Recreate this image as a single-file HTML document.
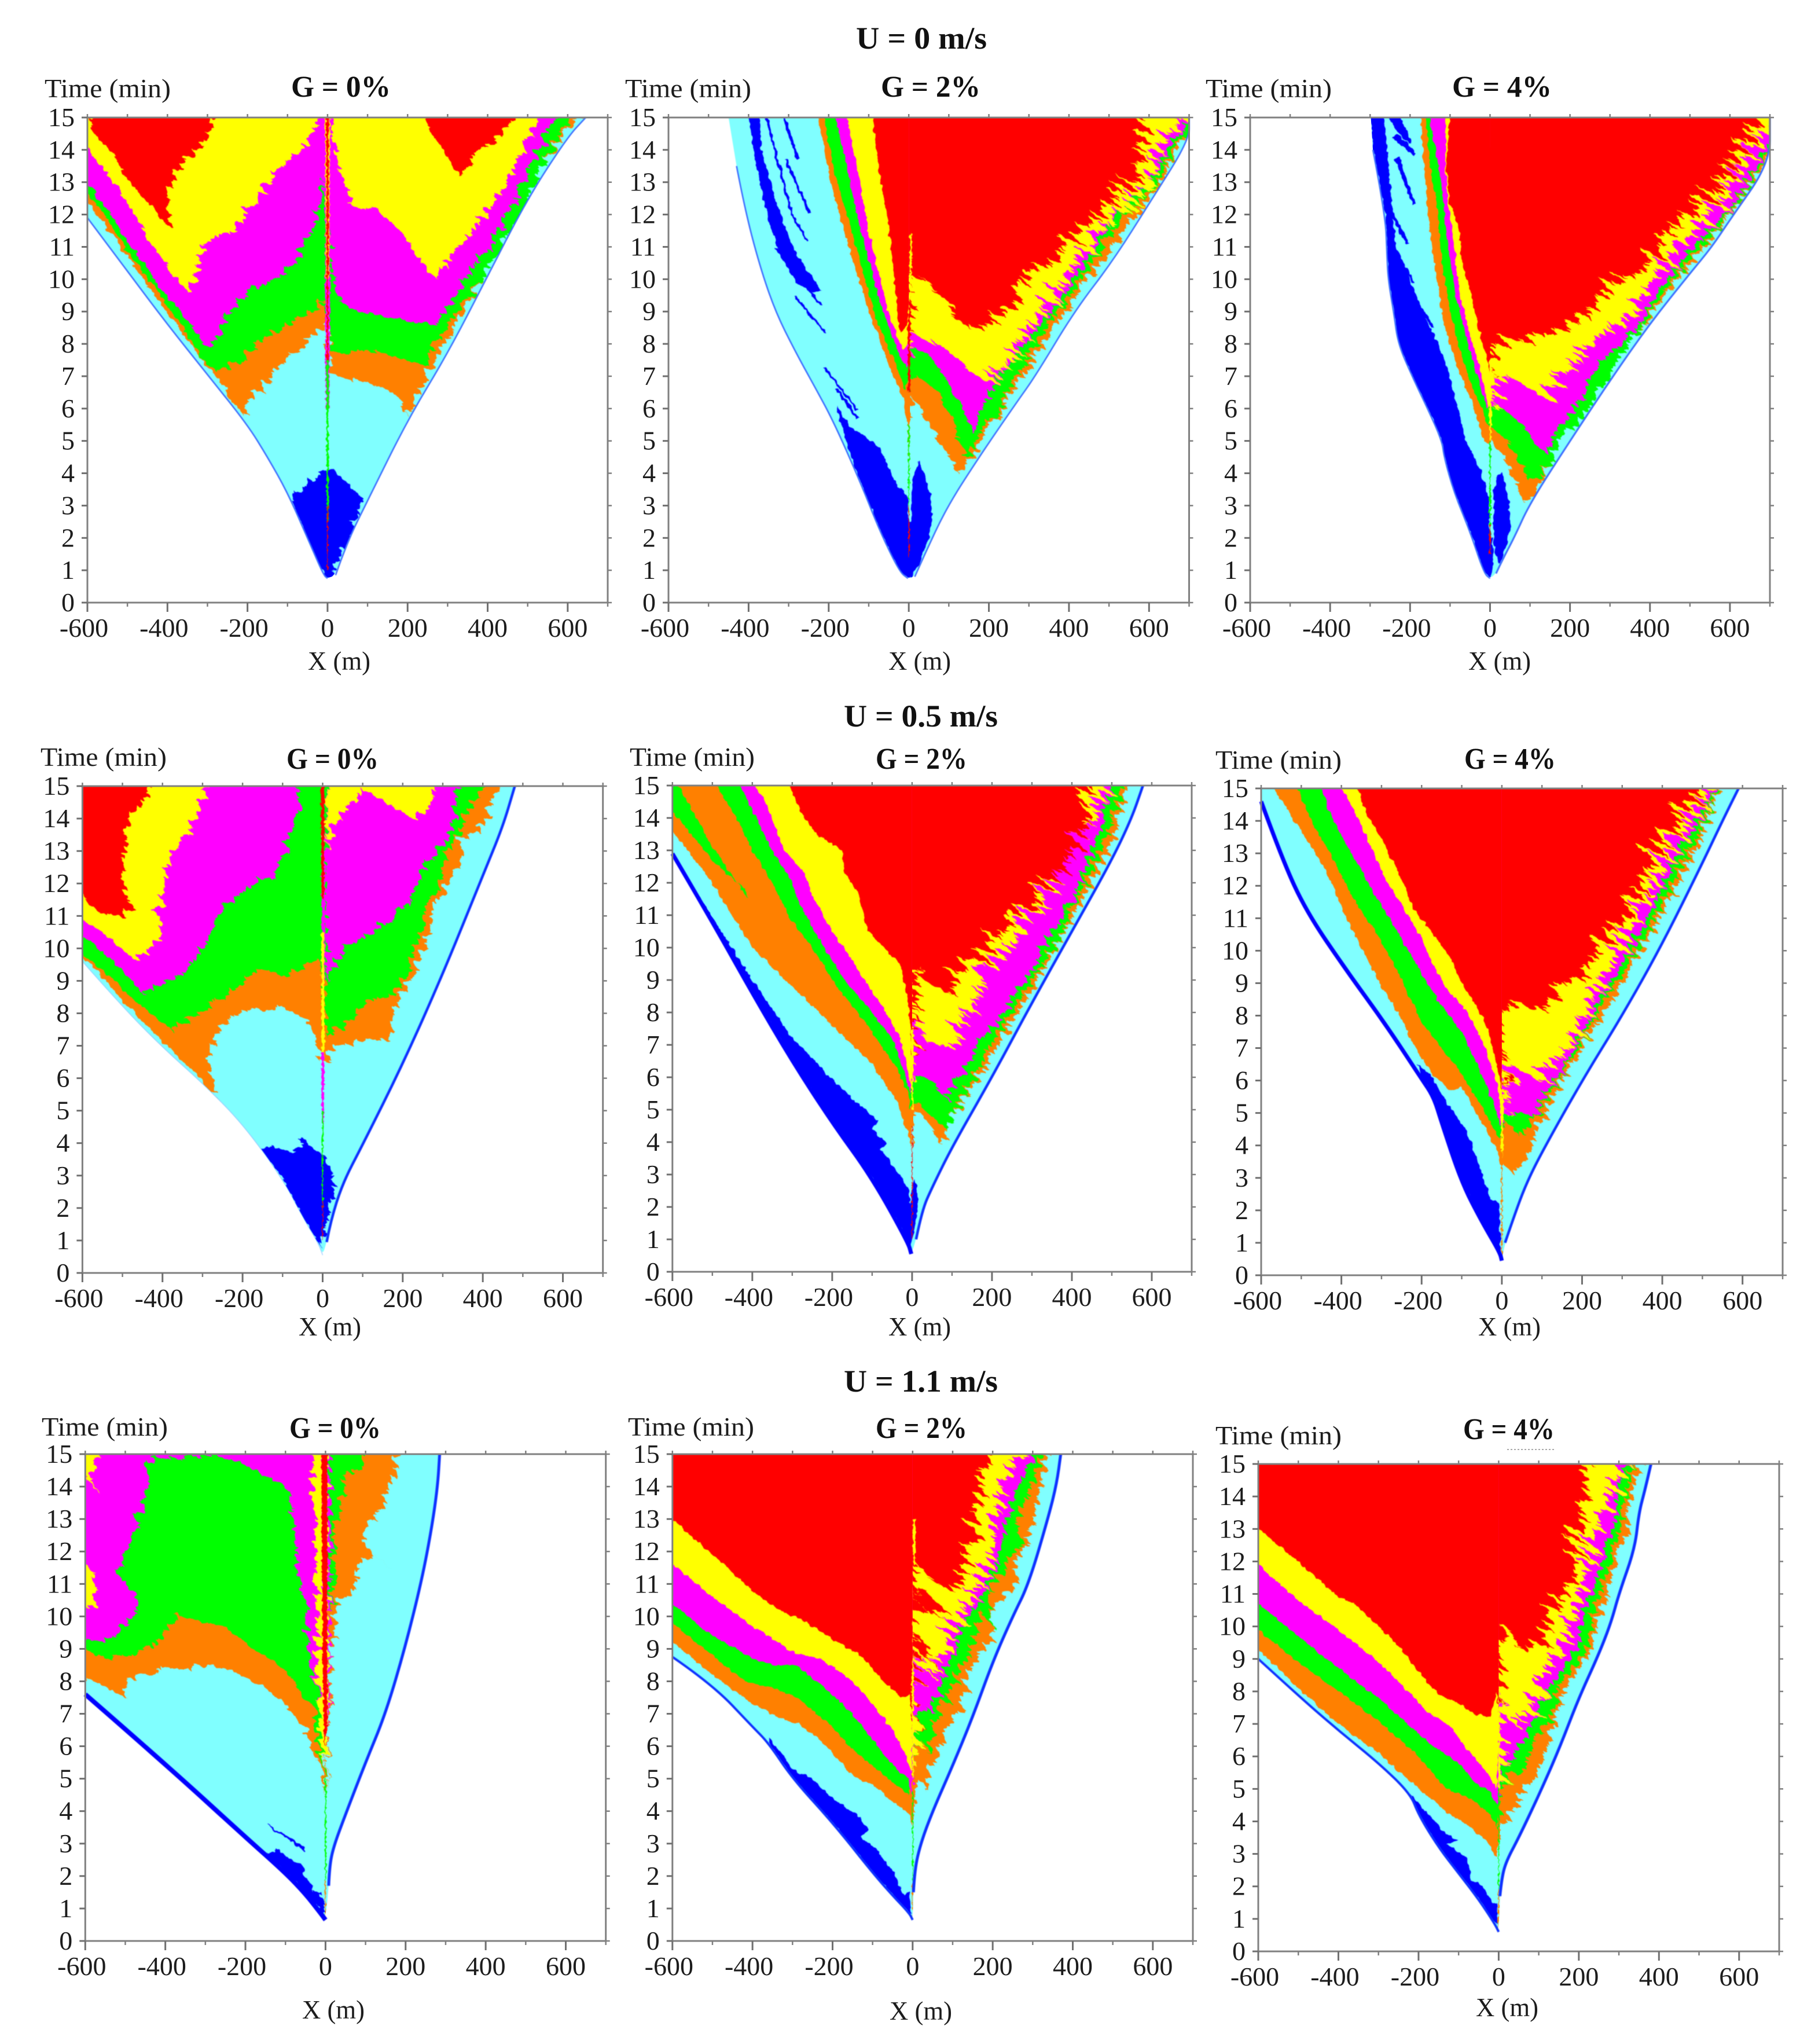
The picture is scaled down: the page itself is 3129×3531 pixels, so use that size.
<!DOCTYPE html>
<html lang="en">
<head>
<meta charset="utf-8">
<title>Traffic space-time diagrams</title>
<style>
html,body{margin:0;padding:0;background:#fff}
svg{display:block}
text{font-family:"Liberation Serif","DejaVu Serif",serif;fill:#1c1c1c}
.tick{font-size:46px}
.axis{font-size:46px}
.g{font-size:52px;font-weight:bold;fill:#111}
.u{font-size:54px;font-weight:bold;fill:#111}
</style>
</head>
<body>
<svg id="figure" xmlns="http://www.w3.org/2000/svg" width="3129" height="3531" viewBox="0 0 3129 3531">
<defs>
<filter id="spiky" x="-20%" y="-20%" width="140%" height="140%" color-interpolation-filters="sRGB">
<feTurbulence type="fractalNoise" baseFrequency="0.007 0.11" numOctaves="3" seed="11" result="n"/>
<feColorMatrix in="n" type="matrix" values="1 0 0 0 0  0 1 0 0 0  0 0 0 0 .5  0 0 0 0 1" result="m"/>
<feDisplacementMap in="SourceGraphic" in2="m" scale="95" xChannelSelector="R" yChannelSelector="B" result="d"/>
<feTurbulence type="fractalNoise" baseFrequency="0.09 0.06" numOctaves="2" seed="3" result="n2"/>
<feDisplacementMap in="d" in2="n2" scale="8" xChannelSelector="R" yChannelSelector="G" result="e"/>
<feGaussianBlur in="e" stdDeviation="0.9"/>
</filter>
<filter id="spikyMid" x="-20%" y="-20%" width="140%" height="140%" color-interpolation-filters="sRGB">
<feTurbulence type="fractalNoise" baseFrequency="0.007 0.11" numOctaves="3" seed="11" result="n"/>
<feColorMatrix in="n" type="matrix" values="1 0 0 0 0  0 1 0 0 0  0 0 0 0 .5  0 0 0 0 1" result="m"/>
<feDisplacementMap in="SourceGraphic" in2="m" scale="38" xChannelSelector="R" yChannelSelector="B" result="d"/>
<feTurbulence type="fractalNoise" baseFrequency="0.09 0.06" numOctaves="2" seed="3" result="n2"/>
<feDisplacementMap in="d" in2="n2" scale="8" xChannelSelector="R" yChannelSelector="G" result="e"/>
<feGaussianBlur in="e" stdDeviation="0.9"/>
</filter>
<filter id="spikyLow" x="-20%" y="-20%" width="140%" height="140%" color-interpolation-filters="sRGB">
<feTurbulence type="fractalNoise" baseFrequency="0.012 0.1" numOctaves="3" seed="5" result="n"/>
<feColorMatrix in="n" type="matrix" values="1 0 0 0 0  0 1 0 0 0  0 0 0 0 .5  0 0 0 0 1" result="m"/>
<feDisplacementMap in="SourceGraphic" in2="m" scale="36" xChannelSelector="R" yChannelSelector="B" result="d"/>
<feTurbulence type="fractalNoise" baseFrequency="0.09 0.06" numOctaves="2" seed="7" result="n2"/>
<feDisplacementMap in="d" in2="n2" scale="10" xChannelSelector="R" yChannelSelector="G" result="e"/>
<feGaussianBlur in="e" stdDeviation="0.9"/>
</filter>
<filter id="fine" x="-20%" y="-20%" width="140%" height="140%" color-interpolation-filters="sRGB">
<feTurbulence type="fractalNoise" baseFrequency="0.11 0.08" numOctaves="2" seed="9" result="n"/>
<feDisplacementMap in="SourceGraphic" in2="n" scale="8" xChannelSelector="R" yChannelSelector="G" result="d"/>
<feGaussianBlur in="d" stdDeviation="0.9"/>
</filter>
<filter id="speckle" x="-30%" y="-5%" width="160%" height="110%" color-interpolation-filters="sRGB">
<feTurbulence type="fractalNoise" baseFrequency="0.2 0.16" numOctaves="2" seed="4" result="n"/>
<feDisplacementMap in="SourceGraphic" in2="n" scale="7" xChannelSelector="R" yChannelSelector="G" result="d"/>
<feGaussianBlur in="d" stdDeviation="0.7"/>
</filter>
<filter id="soft" x="-5%" y="-5%" width="110%" height="110%"><feGaussianBlur stdDeviation="0.8"/></filter>
</defs>
<g id="marks"></g>

<text class="u" x="1479" y="84" textLength="226" lengthAdjust="spacingAndGlyphs">U = 0 m/s</text>
<text class="u" x="1458" y="1255" textLength="266" lengthAdjust="spacingAndGlyphs">U = 0.5 m/s</text>
<text class="u" x="1458" y="2404" textLength="266" lengthAdjust="spacingAndGlyphs">U = 1.1 m/s</text>

<text class="g" x="503" y="167" textLength="172" lengthAdjust="spacingAndGlyphs">G = 0%</text>
<text class="g" x="1522" y="167" textLength="172" lengthAdjust="spacingAndGlyphs">G = 2%</text>
<text class="g" x="2509" y="167" textLength="172" lengthAdjust="spacingAndGlyphs">G = 4%</text>
<text class="g" x="495" y="1328" textLength="159" lengthAdjust="spacingAndGlyphs">G = 0%</text>
<text class="g" x="1513" y="1328" textLength="158" lengthAdjust="spacingAndGlyphs">G = 2%</text>
<text class="g" x="2530" y="1328" textLength="158" lengthAdjust="spacingAndGlyphs">G = 4%</text>
<text class="g" x="500" y="2484" textLength="158" lengthAdjust="spacingAndGlyphs">G = 0%</text>
<text class="g" x="1513" y="2484" textLength="158" lengthAdjust="spacingAndGlyphs">G = 2%</text>
<text class="g" x="2528" y="2486" textLength="158" lengthAdjust="spacingAndGlyphs">G = 4%</text>

<text class="axis" x="77" y="168" textLength="218" lengthAdjust="spacingAndGlyphs">Time (min)</text>
<text class="axis" x="1080" y="168" textLength="218" lengthAdjust="spacingAndGlyphs">Time (min)</text>
<text class="axis" x="2083" y="168" textLength="218" lengthAdjust="spacingAndGlyphs">Time (min)</text>
<text class="axis" x="70" y="1323" textLength="218" lengthAdjust="spacingAndGlyphs">Time (min)</text>
<text class="axis" x="1088" y="1323" textLength="216" lengthAdjust="spacingAndGlyphs">Time (min)</text>
<text class="axis" x="2100" y="1328" textLength="218" lengthAdjust="spacingAndGlyphs">Time (min)</text>
<text class="axis" x="72" y="2480" textLength="218" lengthAdjust="spacingAndGlyphs">Time (min)</text>
<text class="axis" x="1085" y="2480" textLength="218" lengthAdjust="spacingAndGlyphs">Time (min)</text>
<text class="axis" x="2100" y="2495" textLength="218" lengthAdjust="spacingAndGlyphs">Time (min)</text>

<text class="axis" x="586" y="1157" text-anchor="middle" textLength="108" lengthAdjust="spacingAndGlyphs">X (m)</text>
<text class="axis" x="1589" y="1157" text-anchor="middle" textLength="108" lengthAdjust="spacingAndGlyphs">X (m)</text>
<text class="axis" x="2591" y="1157" text-anchor="middle" textLength="108" lengthAdjust="spacingAndGlyphs">X (m)</text>
<text class="axis" x="570" y="2307" text-anchor="middle" textLength="108" lengthAdjust="spacingAndGlyphs">X (m)</text>
<text class="axis" x="1589" y="2307" text-anchor="middle" textLength="108" lengthAdjust="spacingAndGlyphs">X (m)</text>
<text class="axis" x="2608" y="2307" text-anchor="middle" textLength="108" lengthAdjust="spacingAndGlyphs">X (m)</text>
<text class="axis" x="576" y="3487" text-anchor="middle" textLength="108" lengthAdjust="spacingAndGlyphs">X (m)</text>
<text class="axis" x="1591" y="3489" text-anchor="middle" textLength="108" lengthAdjust="spacingAndGlyphs">X (m)</text>
<text class="axis" x="2604" y="3483" text-anchor="middle" textLength="108" lengthAdjust="spacingAndGlyphs">X (m)</text>
<line x1="2604" y1="2504" x2="2686" y2="2504" stroke="#aaa" stroke-width="2" stroke-dasharray="3 3"/>
</svg>
<script>
const xMajorTicks=[-600,-400,-200,0,200,400,600];
const xMinorTicks=[-500,-300,-100,100,300,500,700];
const yTicks=[0,1,2,3,4,5,6,7,8,9,10,11,12,13,14,15];
const xTickLabels=["-600","-400","-200","0","200","400","600"];
const yTickLabels=["0","1","2","3","4","5","6","7","8","9","10","11","12","13","14","15"];

/* Regions are [x(m), t(min), x, t, ...]. */
/* U=0, G=0 */
const p1Left=[-600,15,-600,11.9,-500,10.25,-400,8.6,-300,7.05,-200,5.5,-150,4.5,-100,3.4,-50,2,-10,.85,0,.75];
const p1Right=[20,.85,50,1.9,100,3.15,200,5.65,300,7.7,400,10.1,500,12.5,600,14.4,645,15];
const p1Blue=[-5,4.15,-30,3.85,-60,3.7,-85,3.4,-80,2.9,-65,2.2,-35,1.4,-15,.9,0,.75,15,.9,35,1.4,55,2,72,2.6,85,3.3,60,3.6,30,3.9,8,4.15];
const p1Orange=[-600,15,-600,12.4,-500,10.7,-400,8.95,-310,7.45,-280,7,-240,6.3,-207,5.75,-197,6.3,-166,6.6,-125,7.3,-74,7.8,-13,8.5,0,8.7,7,7.1,48,6.9,99,6.8,150,6.6,175,6.3,200,5.8,215,6.2,242,6.85,303,8.2,405,10.5,507,12.9,600,14.65,630,15];
const p1Green=[-600,15,-600,12.7,-500,10.9,-400,9.2,-310,7.5,-280,7.15,-207,7.5,-166,8.1,-105,8.55,-33,9.05,-8,9.4,10,7.7,58,7.75,119,7.8,170,7.6,242,7.3,262,7.8,313,8.8,405,10.4,507,12.5,558,14,609,15];
const p1Magenta=[-600,15,-600,13,-513,11.4,-411,9.6,-340,8.6,-304,7.9,-279,8.1,-253,8.9,-197,9.7,-125,10.05,-64,10.8,-29,11.9,-8,13.15,0,12,17,9.85,27,9.3,79,9,150,8.85,221,8.7,272,8.55,303,9.2,395,10.95,476,12.6,528,14,568,15];
const p1Yellow=[-600,15,-600,14.1,-500,12.4,-411,10.55,-350,9.6,-330,9.8,-320,10.6,-300,11.2,-240,11.5,-190,12.2,-130,13.3,-60,14.1,-15,15,10,15,15,14,40,13,60,12.3,130,12.15,190,11.3,250,10.3,272,10,290,10.4,380,11.8,450,13,510,14.6,525,15];
const p1RedLeft=[-590,15,-590,14.65,-523,13.6,-472,12.6,-432,12.2,-416,11.8,-396,11.6,-401,12.6,-370,13.5,-320,14,-299,14.5,-279,15];
const p1RedRight=[237,15,262,14.5,293,13.9,334,13.15,364,13.9,426,14.4,471,15];
const p1StemMagenta=[-7,15,8,15,6,9,4,6,-4,6,-6,9];
const p1StemYellow=[-6,15,6,15,4,10,-4,10];
const p1StemRed=[-3,15,3,15,2,9,1,7,-2,7,-2,9];
const p1StemGreen=[-3,7.5,3,7.5,2.5,2.5,-2,2.5];
const p1StemRedLow=[-1.5,3,1.5,3,1,1,-1,1];

/* U=0, G=2 */
const p2Left=[-450,15,-430,13.5,-410,12.2,-372,10.4,-333,9,-285,7.8,-236,6.7,-188,5.6,-120,3.7,-72,2.2,-23,.95,-2,.75];
const p2Right=[15,.8,40,1.5,93,2.9,170,4.4,267,6.15,316,7,413,9,509,10.55,606,12.45,700,14.3,700,15];
const p2BlueLow=[-180,6.1,-150,5.5,-72,4.8,-33,3.7,-4,3.3,0,2.5,6,2.5,8,3.8,25,4.4,50,3.55,59,2.75,50,2.05,25,1.2,6,.8,-2,.75,-23,.95,-72,2.2,-120,3.7,-160,5.1];
const p2BlueArc=[-400,15,-372,15,-368,14,-345,13,-320,12,-290,11,-250,10.2,-217,9.65,-240,9.6,-280,9.9,-315,10.6,-345,11.6,-365,12.6,-385,13.8];
const p2Streak1=[-315,15,-308,15,-272,13.7,-280,13.7];
const p2Streak2=[-310,13.7,-304,13.7,-245,12.05,-252,12.05];
const p2Streak3=[-358,15,-352,15,-290,12.05,-248,11.15,-254,11.15,-296,12.05];
const p2Streak4=[-334,10.95,-326,10.95,-216,9.2,-224,9.2];
const p2Streak5=[-285,9.45,-278,9.45,-206,8.35,-212,8.35];
const p2Streak6=[-212,7.25,-205,7.25,-126,5.95,-132,5.95];
const p2Streak7=[-184,6.6,-176,6.6,-124,5.7,-132,5.7];
const p2Orange=[-227,15,-198,13.15,-149,10.95,-100,9,-52,7.4,-14,6.3,-2,5.5,8,6.4,54,5.5,103,4.4,122,4,146,4.4,190,5.1,238,6.15,306,7.5,412,9.45,509,10.95,606,12.7,700,14.5,700,15];
const p2Green=[-212,15,-183,13.15,-130,10.95,-81,8.75,-33,7.4,-9,6.6,8,7.1,64,6.6,112,5.6,137,4.5,166,4.95,219,5.9,278,7.25,345,8.6,432,10,519,11.65,606,12.9,700,14.65,700,15];
const p2Magenta=[-183,15,-159,13.7,-120,11.5,-72,9.3,-23,7.65,-4,7.25,8,7.9,54,7.65,103,6.7,146,5.7,166,5.2,190,6.3,229,7,296,8.1,354,9,432,10.3,509,11.8,606,13.2,700,14.9,700,15];
const p2Yellow=[-154,15,-130,13.55,-101,11.5,-52,9,-14,7.8,8,8.35,64,8.1,122,7.4,190,6.85,229,7.1,278,8.1,316,8.75,345,9.3,383,9.85,432,10.7,470,11.35,540,12.2,606,13.55,647,14.4,680,14.85,690,15];
const p2Red=[-91,15,-72,13.15,-52,11.8,-33,9.7,-23,8.35,-4,8.6,6,9.85,35,10.05,83,9.45,122,8.75,170,8.35,205,8.7,240,9,275,9.5,320,10.2,358,10.6,395,11.2,430,11.5,470,11.9,509,12.6,540,12.9,577,13.7,590,14.7,585,15];
const p2StemYellow=[3,11.4,8,11.4,6,9.5,2,9.5];
const p2StemRed=[-3,8.5,5,9.5,3,6.5,-1,6];
const p2StemOrange=[-3,6.5,3,6.5,1.5,4,-1,4];
const p2StemGreen=[-1.5,5.5,2,5.5,1.5,2.8,-1,2.8];
const p2StemRedLow=[-1,3,1,3,1,1.4,-1,1.4];

/* U=0, G=4 */
const p3Left=[-298,15,-293,14,-262,12,-258,10.8,-255,10,-240,8.9,-230,8,-195,7,-160,6.1,-120,5,-115,4.5,-90,3.4,-50,2.2,-15,.9,0,.75];
const p3Right=[15,.9,30,1.3,60,2,100,3.08,200,5,299,6.85,398,8.6,498,10.15,555,11,598,11.8,700,13.6,700,15];
const p3BlueMain=[-298,15,-265,15,-250,13,-245,12,-235,11,-210,10.3,-170,9,-130,8,-100,7,-80,6,-60,5,-20,4,-2,3.1,0,2,6,2,8,1.2,0,.75,-15,.9,-50,2.2,-90,3.4,-115,4.5,-120,5,-160,6.1,-195,7,-230,8,-240,8.9,-255,10,-258,10.8,-262,12,-293,14];
const p3BlueLobe=[30,4,45,3.3,52,2.3,40,1.7,25,1.2,10,1.6,8,2,10,3.5,18,3.9];
const p3Streak1=[-255,15,-225,15,-195,14.2,-205,14.2,-235,14.6];
const p3Streak2=[-245,14.4,-232,14.5,-183,13.9,-190,13.8];
const p3Streak3=[-238,13.7,-228,13.8,-186,12.3,-194,12.3];
const p3Streak4=[-258,12.2,-246,12.2,-202,11.1,-210,11.1];
const p3Streak5=[-228,10.6,-220,10.6,-188,9.9,-194,9.9];
const p3Streak6=[-190,9.3,-180,9.3,-138,8.5,-146,8.5];
const p3Orange=[-175,15,-165,13.5,-155,12,-140,10.5,-115,8.6,-85,7.4,-45,6.2,-15,5,-5,4.9,5,5,25,4.7,50,4.2,75,3.4,95,3.05,115,3.3,160,4.65,200,5.4,250,6.3,300,7.2,400,8.9,500,10.4,555,11.2,600,12,700,13.8,700,15];
const p3Green=[-160,15,-150,13.5,-130,12,-125,11,-105,9.3,-80,8,-50,6.8,-20,6,-5,5.5,10,5.3,40,5.05,70,4.4,100,3.75,130,3.97,190,5.2,239,5.9,300,7,398,9,498,10.55,553,11.3,598,12.05,700,14,700,15];
const p3Magenta=[-150,15,-122,13,-105,11,-85,9.5,-55,8,-25,6.7,-8,6,10,6.2,40,5.9,80,5.5,120,4.8,145,4.6,165,5.15,200,5.9,240,6.55,260,7.25,300,7.65,339,8.1,398,9.2,498,10.8,598,12.2,700,14.2,700,15];
const p3Yellow=[-110,15,-112,13.5,-105,12.5,-90,11,-75,9.5,-50,8.3,-20,7,-4,6,5,6.2,30,7,60,6.9,100,6.6,140,6.3,170,7,200,7.2,240,7.8,300,8.5,340,9,400,9.8,450,10.6,500,11.4,560,12.4,600,13.2,650,14,700,14.7,700,15];
const p3Red=[-100,15,-110,13.5,-100,12.3,-80,11.7,-70,10.5,-45,9.5,-30,8.5,-5,7.5,0,7,5,7.5,20,8,60,8.2,110,8.1,150,8.1,200,8.4,230,8.9,280,9.3,310,9.8,380,10.3,420,10.9,450,11.6,500,12.1,560,13,600,13.6,670,14.9,675,15];
const p3StemYellow=[-3,7.5,4,7.5,3,5,-1,5];
const p3StemGreen=[-2,5,2,5,1.5,2,-1,2];
const p3StemRedLow=[-1,2.4,1,2.4,1,1.5,-1,1.5];

/* U=0.5, G=0 */
const p4Left=[-600,15,-600,9.6,-500,8.2,-400,6.95,-300,5.85,-200,4.6,-100,2.9,-50,1.72,-10,.9,0,.55];
const p4Right=[10,.95,20,1.6,50,2.77,100,3.95,200,6.43,300,9.2,400,12.25,450,13.75,480,15];
const p4Blue=[-165,3.95,-120,3.8,-60,3.8,-40,4.1,-8,3.7,5,3.6,25,2.9,25,2.5,15,1.7,5,1.3,-3,.8,-10,.9,-50,1.72,-100,2.9];
const p4Orange=[-600,15,-600,9.75,-500,8.4,-400,7.1,-300,5.95,-250,4.85,-270,5.6,-285,6.5,-270,7.3,-230,7.9,-165,8.1,-100,8.2,-40,7.8,-10,7,-5,6.5,5,6.5,30,7,90,7.1,170,7.2,175,7.6,180,8.1,222,9.3,252,10,272,11,313,12.05,350,12.6,340,13.35,394,13.6,435,14.75,445,15];
const p4Green=[-600,15,-600,9.85,-530,9.1,-450,8.2,-380,7.5,-340,7.8,-300,8.1,-230,8.6,-165,9.4,-100,9.2,-50,9.3,-20,9.7,-5,9.5,5,7.8,10,7.3,60,7.7,130,8.4,180,8.6,210,9.4,240,10.5,250,11,290,12,310,13,340,13.5,370,14.5,410,15];
const p4MagentaLeft=[-600,15,-600,10.4,-520,9.6,-450,8.6,-400,8.8,-340,9.4,-300,9.9,-290,10.3,-260,11,-240,11.3,-190,11.9,-130,12.2,-100,12.8,-70,14,-50,14.8,-70,15];
const p4MagentaRight=[8,15,8,9,20,9.2,60,10,100,10.3,170,10.9,210,11.3,240,12,270,12.8,290,13.1,320,13.5,330,14.3,330,15];
const p4YellowLeft=[-600,15,-600,10.9,-530,10.3,-490,9.8,-470,9.7,-420,10.1,-405,10.3,-410,11,-395,11.7,-390,12.5,-340,13.5,-310,14.3,-290,15];
const p4YellowRight=[8,15,10,13,30,13.9,60,14.2,100,14.9,130,14.7,200,14.2,230,14,270,14.3,278,15];
const p4Red=[-600,15,-600,11.7,-560,11.1,-500,11,-480,11.2,-495,12,-500,13,-485,14,-450,14.5,-430,15];
const p4StemMagenta2=[-3,13,7,13,6,9,-2,9];
const p4StemYellow=[-3,10.5,4,10.5,5,6.8,3,6.2,-2,6.2,-3,9];
const p4StemRed=[-5,15,5,15,3,11.5,-2,11.5];
const p4StemMagenta=[-3,6.8,4,6.8,3,4.6,-2,4.6];
const p4StemGreen=[-2,5,2,5,1.5,2,-1,2];
const p4StemRedLow=[-1,2.2,1,2.2,1,1,-1,1];

/* U=0.5, G=2 */
const p5Left=[-600,15,-600,12.9,-500,10.8,-400,8.6,-300,6.5,-200,4.6,-100,2.9,-10,.9,-2,.55];
const p5Right=[10,1,25,1.9,50,2.6,100,3.85,200,6,300,8.3,400,10.5,500,12.7,550,14,578,15];
const p5Blue=[-600,12.9,-600,12.65,-500,10.95,-400,9,-305,7.3,-217,6.15,-140,5.25,-86,4.65,-100,4.4,-62,3.95,-80,3.8,-33,3,-9,2.6,-4,2.1,5,2.9,15,2.3,8,1.5,-2,.8,-10,.9,-100,2.9,-200,4.6,-300,6.5,-400,8.6,-500,10.8];
const p5Orange=[-600,15,-600,13.6,-500,12,-400,10,-300,8.8,-200,7.6,-100,6.4,-40,5.3,-8,4.2,-2,3.8,5,5,20,4.9,50,4.4,75,3.9,85,4.5,100,4.8,150,5.7,200,6.7,250,7.7,300,8.7,400,10.9,450,12,500,13.2,530,14.6,535,15];
const p5GreenSliver=[-600,15,-585,15,-500,13.1,-410,11.5,-420,11.8,-500,12.7,-600,14.2];
const p5Green=[-490,15,-440,14,-400,13,-350,12,-310,11,-250,10,-200,9,-100,7.4,-40,6.3,-10,5.5,-5,5,5,5.3,30,5,60,4.7,85,4.4,110,5.1,150,5.9,200,7.1,250,8,300,9,370,10.3,400,11.2,450,12.4,490,13.6,520,14.6,525,15];
const p5Magenta=[-430,15,-390,14,-350,13,-300,12,-280,11.3,-220,10,-170,9,-100,8,-50,7.2,-20,6.2,-5,5.5,5,6,25,6,60,5.8,85,5.3,100,5.7,130,6.2,170,7.2,220,7.8,260,8.6,300,9.3,340,10.3,400,11.4,440,12.7,470,13.7,505,15];
const p5Yellow=[-395,15,-370,14.6,-320,13,-270,12.3,-250,11.6,-200,10.5,-160,9.8,-120,9,-70,8.1,-30,7.2,-10,6.2,-2,5.7,5,8,20,7.5,50,7,85,6.9,110,7.4,140,8.1,170,8.6,200,9.6,240,10.1,280,10.8,330,11.5,370,12.7,420,13.4,440,14,470,14.2,490,15];
const p5Red=[-305,15,-280,14.2,-240,13.5,-175,13,-170,12.3,-135,11.7,-110,10.5,-70,10,-30,9.5,-12,8.5,-4,7.5,0,6.5,5,7.5,12,9.5,30,9,100,8.5,110,9.3,170,9.6,200,10.4,250,10.9,300,11.4,330,12.1,370,12.3,400,12.9,430,13.7,430,14.6,470,15];
const p5StemYellow=[-4,7.5,4,7.5,2,5,-1,5];
const p5StemRed=[-1,4.5,1,4.5,1,1,-1,1];

/* U=0.5, G=4 */
const p6Left=[-600,15,-600,14.6,-547,12.8,-487,11.2,-388,9.4,-288,7.7,-200,6.05,-170,5.5,-150,4.7,-100,2.85,-50,1.65,-5,.7,0,.45];
const p6Right=[8,1,30,1.8,60,2.8,100,3.8,200,6,300,8,400,10.2,500,12.7,550,14,590,15];
const p6Blue=[-210,6.5,-180,6.2,-130,5.2,-90,4.5,-60,3.5,-30,2.4,-5,2.2,-5,.7,-50,1.65,-100,2.85,-150,4.7,-170,5.5,-200,6.05];
const p6Orange=[-570,15,-500,13.7,-440,12.5,-380,10.8,-300,8.9,-250,7.9,-220,7.1,-170,6.1,-130,5.7,-100,5.8,-50,4.7,-10,3.8,-3,3.4,5,3.4,30,3.1,55,3.5,80,4.2,150,6,200,7,300,9,400,11.2,500,13.5,540,15];
const p6Green=[-510,15,-470,13.9,-420,12.8,-370,11.6,-300,10.3,-250,9.1,-200,7.8,-150,7,-100,6.2,-50,5.2,-5,4.2,5,4.9,40,4.3,70,4.6,110,5.4,150,6.2,200,7.2,260,8.6,300,9.3,350,10.3,400,11.5,450,12.7,500,13.8,535,15];
const p6Magenta=[-450,15,-420,14,-370,12.9,-320,11.8,-260,10.6,-210,9.5,-150,8.3,-100,7.5,-50,6.2,-20,5.3,-5,4.6,8,5,40,5,80,4.9,110,5.6,150,6.3,200,7.4,250,8.6,300,9.6,350,10.7,400,11.9,450,13.2,500,14.2,530,15];
const p6Yellow=[-400,15,-370,14.4,-330,13.3,-290,12.2,-230,11,-200,10.4,-170,9.5,-130,8.7,-90,8.2,-40,7,-10,5.8,-2,5,8,6,40,6.4,90,6,120,6.7,150,6.6,190,7.6,230,8.6,280,9.8,330,11,380,12,420,13,470,14.2,510,15];
const p6Red=[-360,15,-340,14.3,-290,13.2,-250,12.2,-220,11.3,-170,10.5,-130,9.8,-100,9,-50,8,-30,7.4,-10,6.3,0,5.7,5,8.2,30,8.5,90,8.2,140,8.7,200,9.3,220,9.9,260,10.5,310,11.1,350,12,380,12.9,410,13.5,440,14.4,480,15];
const p6StemYellow=[-3,5.5,4,5.5,2,3.6,-1,3.6];
const p6StemOrange=[-1.5,3.8,1.5,3.8,1,.5,-1,.5];

/* U=1.1, G=0 */
const p7Left=[-600,15,-600,7.6,-400,5.45,-200,3.2,-100,2.1,-50,1.45,-15,.9,0,.65];
const p7Right=[8,1.7,10,2.3,20,2.9,50,3.9,100,5.5,150,7,200,9.1,240,11.1,265,12.7,280,14,285,15];
const p7Blue=[-130,2.9,-90,2.55,-55,2.3,-60,2.1,-30,1.5,-8,1.5,-5,.85,-15,.9,-50,1.45,-100,2.1,-150,2.65];
const p7Streak=[-150,3.6,-146,3.6,-55,2.88,-58,2.78];
const p7OrangeLeft=[-600,15,-600,8.1,-560,7.9,-500,7.5,-500,8,-460,8.2,-400,8.35,-350,8.4,-300,8.5,-260,8.45,-200,8.1,-150,7.8,-100,7.3,-50,6.5,-25,5.7,-10,5,-3,4.5,-3,15];
const p7OrangeRight=[3,4.5,8,6.5,15,8.4,10,9,25,9.4,25,10.3,35,10.5,70,10.7,75,11.5,120,11.9,170,11.4,110,12,85,12.4,115,13,150,13.6,175,14.2,175,15,3,15];
const p7GreenLeft=[-600,15,-600,9,-560,8.7,-480,8.8,-420,9.2,-370,10,-300,9.8,-240,9.6,-190,9.1,-130,8.6,-80,8.1,-35,7.2,-12,5.5,-5,5,-5,15];
const p7GreenRight=[8,10,20,10.5,25,11.2,20,12.5,40,13.5,50,14.3,90,14.6,95,15,8,15];
const p7MagentaLeft=[-600,15,-600,9.3,-550,9.2,-520,9.5,-480,10,-470,10.6,-520,11.3,-500,12,-470,13,-440,14,-450,14.8,-350,14.92,-280,15];
const p7MagentaRight=[-280,15,-190,14.6,-100,14,-80,13,-70,11.5,-55,10.5,-40,8.8,-15,7.2,-5,6,-5,15];
const p7MagentaStem=[3,15,14,15,12,10,9,8,5,6.5,3,6];
const p7YellowTop=[-600,15,-575,15,-585,14.3,-570,13.8,-600,14.4];
const p7YellowMid=[-600,11.6,-585,11.4,-570,11,-585,10.2,-600,10.3];
const p7YellowStem=[-32,15,-25,12,-22,10,-20,8,-12,6,-5,5.5,3,6,3,15];
const p7StemRed=[-10,15,5,15,4,6.5,-3,6,-8,9];
const p7StemGreen=[-2,5,2,5,1.5,1.8,-1,1.8];
const p7StemOrange=[-1.5,1.9,1.5,1.9,1,.65,-1,.65];

/* U=1.1, G=2 */
const p8Left=[-600,15,-600,8.75,-500,7.9,-400,6.6,-360,6.1,-300,5,-200,3.65,-100,2.1,-50,1.4,-8,.85,0,.65];
const p8Right=[2,1.5,5,2.2,20,3,50,4,100,5.4,150,6.9,200,8.6,250,10,290,11,340,13.1,360,14.1,370,15];
const p8Blue=[-360,6.3,-300,5.3,-250,5,-200,4.4,-130,3.8,-110,3.4,-130,3.2,-90,2.8,-60,2.3,-50,2.2,-20,1.4,-8,1.5,-5,.85,-8,.85,-50,1.4,-100,2.1,-200,3.65,-300,5,-360,6.1];
const p8Orange=[-600,15,-600,9.2,-500,8.2,-400,7.3,-340,6.9,-290,6.7,-250,6.4,-200,5.8,-150,5.1,-100,4.8,-50,4.3,-8,3.9,-2,3.5,5,4.5,10,5,25,4.9,35,4.6,40,5.1,70,6.1,80,6.5,110,6.9,150,8.5,195,9.3,200,10.2,250,10.8,270,12,290,12.5,320,14,335,15];
const p8Green=[-600,15,-600,9.8,-500,8.8,-420,8,-350,7.8,-290,7.5,-250,7.1,-200,6.6,-150,5.9,-100,5.4,-50,4.9,-8,4.5,5,6,20,6.2,35,5.8,50,6.8,60,6.7,80,7.4,110,8.1,150,9.1,170,10.2,200,9.6,190,10.8,230,11.5,270,12.2,260,13,300,14.1,320,15];
const p8Magenta=[-600,15,-600,10.4,-500,9.4,-400,8.7,-350,8.5,-290,8.5,-220,7.8,-150,7,-100,6.2,-50,5.4,-10,5,-3,4.5,5,6.9,20,7,35,7.2,50,7,70,7.9,100,8.8,130,9.9,170,10.5,200,11.3,220,12,240,13.2,280,14.4,300,15];
const p8Yellow=[-600,15,-600,11.6,-500,10.6,-400,9.7,-300,8.9,-230,8.7,-150,8,-100,7.3,-50,6.5,-20,5.8,-3,5.2,5,9,20,8.5,50,8.1,70,8.7,100,9.6,130,10.2,170,11.2,200,12,210,13.2,240,14.1,265,15];
const p8Red=[-600,15,-600,13,-500,11.9,-400,10.8,-320,10.1,-290,10,-200,9.3,-130,8.8,-80,8.1,-30,7.5,-8,7.6,0,6.5,3,11.7,5,11.7,30,11.3,60,11,100,10.9,120,11,125,11.6,140,12.1,165,13,165,13.8,185,14.5,210,15];
const p8RedStreak1=[5,10.9,60,10.6,80,9.9,40,10.2,5,10.4];
const p8RedStreak2=[8,9.6,40,9,60,8.4,30,8.8,8,9.1];
const p8StemYellow=[2,13,7,13,6,11.6,2,11.6];
const p8StemYellowLow=[-3,8,3,9,2,5,-1,5];
const p8StemGreen=[-1.5,4.6,1.5,4.6,1,1.7,-1,1.7];
const p8StemOrange=[-1.5,1.8,1.5,1.8,1,.65,-1,.65];

/* U=1.1, G=4 */
const p9Left=[-600,15,-600,9,-500,7.87,-400,6.8,-300,5.8,-220,4.85,-200,4.2,-150,3.2,-100,2.4,-50,1.6,-10,.85,0,.6];
const p9Right=[3,1.7,8,2.3,20,2.8,50,3.5,100,4.8,150,6.2,200,7.8,250,9.15,280,10.1,300,11,340,12.4,350,13.5,365,14.2,380,15];
const p9Blue=[-220,4.85,-190,4.4,-130,3.6,-100,3.4,-130,3.3,-80,2.9,-70,2.2,-40,2,-15,1.5,-5,1.5,-3,.85,-10,.85,-50,1.6,-100,2.4,-150,3.2,-200,4.2];
const p9Orange=[-600,15,-600,9.3,-500,8.1,-400,7,-300,6.1,-200,5,-130,4.3,-80,3.9,-30,3.4,-5,2.9,5,3.9,20,4,40,4.4,60,5,85,5.2,120,6.2,150,7.5,200,8.7,230,9.3,260,10.5,290,12,320,13,330,14,355,15];
const p9Green=[-600,15,-600,9.9,-500,8.9,-400,8,-300,7.1,-200,6,-130,5,-70,4.7,-20,4.2,-4,3.8,5,4.9,30,5.5,50,5.5,60,5.7,90,6.5,130,7.2,160,8.2,200,8.9,230,9.7,250,11,290,12.5,310,13.5,335,15];
const p9Magenta=[-600,15,-600,10.7,-500,9.7,-400,8.7,-300,7.8,-200,6.7,-150,6.2,-100,5.8,-60,5.2,-20,4.9,-3,4.5,8,5.7,30,6,50,6.4,70,6.6,110,7.7,150,8.3,200,9.5,210,10.3,240,11.3,270,12.5,290,13.3,305,14.5,325,15];
const p9Yellow=[-600,15,-600,11.9,-500,10.8,-400,9.9,-300,8.9,-250,8.3,-180,7.4,-120,6.9,-70,6.1,-30,5.5,-5,5,5,8,15,7.4,40,7,60,6.8,80,7.5,120,8.2,150,9,170,9.9,200,10.8,220,11.8,240,12.8,260,13.5,290,14.2,310,15];
const p9Red=[-600,15,-600,13,-500,12,-400,10.9,-360,10.7,-300,10,-250,9.4,-200,8.6,-150,7.9,-110,7.7,-60,7.3,-20,7.2,-5,8,0,7.2,5,10.1,20,10,40,9.4,80,9.3,110,9.5,130,10.5,150,10.9,190,11.4,190,12.2,200,13,210,13.8,210,14.6,230,15];
const p9StemYellow=[-3,7.5,3,7.5,2,5,-1,5];
const p9StemGreen=[-1.5,5,1.5,5,1,1.8,-1,1.8];
const p9StemOrange=[-1.5,1.9,1.5,1.9,1,.6,-1,.6];

const palette={cyan:"#80ffff",blue:"#0000ff",orange:"#ff8000",green:"#00ff00",magenta:"#ff00ff",yellow:"#ffff00",red:"#ff0000"};

const panelLayout=[
 {id:"u0-g0",x0:151,x1:1050,y0:203,y1:1041,leftW:2.5,rightW:2.5,leftC:"#3a6cff",texL:"spikyLow",texMid:"spikyLow",texHi:"spikyLow"},
 {id:"u0-g2",x0:1155,x1:2054.5,y0:203,y1:1041,leftW:2.5,rightW:2.5,leftC:"#3a6cff",texL:"fine",texMid:"spikyMid",texHi:"spiky"},
 {id:"u0-g4",x0:2160,x1:3058,y0:203,y1:1041,leftW:2.5,rightW:3,leftC:"#3a6cff",texL:"fine",texMid:"spikyMid",texHi:"spiky"},
 {id:"u05-g0",x0:142.4,x1:1041.7,y0:1358,y1:2199,leftW:1,rightW:4.5,leftC:"#80c0ff",texL:"spikyLow",texMid:"spikyLow",texHi:"spikyLow"},
 {id:"u05-g2",x0:1161.8,x1:2059,y0:1357,y1:2197,leftW:7,rightW:4.5,leftC:"#0000ff",texL:"fine",texMid:"spikyMid",texHi:"spiky"},
 {id:"u05-g4",x0:2179,x1:3080,y0:1362,y1:2203,leftW:7,rightW:4.5,leftC:"#0000ff",texL:"fine",texMid:"spikyMid",texHi:"spiky"},
 {id:"u11-g0",x0:147.3,x1:1046.7,y0:2512,y1:3353,leftW:8,rightW:5,leftC:"#0000ff",texL:"spikyLow",texMid:"spikyLow",texHi:"spikyLow"},
 {id:"u11-g2",x0:1161.8,x1:2061,y0:2512,y1:3353,leftW:4,rightW:5,leftC:"#1030ff",texL:"fine",texMid:"spikyMid",texHi:"spiky"},
 {id:"u11-g4",x0:2174,x1:3074,y0:2529,y1:3371,leftW:4,rightW:5,leftC:"#1030ff",texL:"fine",texMid:"spikyMid",texHi:"spiky"}
];
const panelData=[
 {left:p1Left,right:p1Right,rough:[["blue",p1Blue],["orange",p1Orange],["green",p1Green],["magenta",p1Magenta],["yellow",p1Yellow],["red",p1RedLeft],["red",p1RedRight]],
  stem:[["magenta",p1StemMagenta],["yellow",p1StemYellow],["red",p1StemRed],["green",p1StemGreen],["red",p1StemRedLow]]},
 {left:p2Left,right:p2Right,rough:[["blue",p2BlueLow],["blue",p2BlueArc],["blue",p2Streak1],["blue",p2Streak2],["blue",p2Streak3],["blue",p2Streak4],["blue",p2Streak5],["blue",p2Streak6],["blue",p2Streak7],["orange",p2Orange],["green",p2Green],["magenta",p2Magenta],["yellow",p2Yellow],["red",p2Red]],
  stem:[["yellow",p2StemYellow],["red",p2StemRed],["orange",p2StemOrange],["green",p2StemGreen],["red",p2StemRedLow]]},
 {left:p3Left,right:p3Right,rough:[["blue",p3BlueMain],["blue",p3BlueLobe],["blue",p3Streak1],["blue",p3Streak2],["blue",p3Streak3],["blue",p3Streak4],["blue",p3Streak5],["blue",p3Streak6],["orange",p3Orange],["green",p3Green],["magenta",p3Magenta],["yellow",p3Yellow],["red",p3Red]],
  stem:[["yellow",p3StemYellow],["green",p3StemGreen],["red",p3StemRedLow]]},
 {left:p4Left,right:p4Right,rough:[["blue",p4Blue],["orange",p4Orange],["green",p4Green],["magenta",p4MagentaLeft],["magenta",p4MagentaRight],["yellow",p4YellowLeft],["yellow",p4YellowRight],["red",p4Red]],
  stem:[["magenta",p4StemMagenta2],["yellow",p4StemYellow],["red",p4StemRed],["magenta",p4StemMagenta],["green",p4StemGreen],["red",p4StemRedLow]]},
 {left:p5Left,right:p5Right,rough:[["blue",p5Blue],["orange",p5Orange],["green",p5GreenSliver],["green",p5Green],["magenta",p5Magenta],["yellow",p5Yellow],["red",p5Red]],
  stem:[["yellow",p5StemYellow],["red",p5StemRed]]},
 {left:p6Left,right:p6Right,rough:[["blue",p6Blue],["orange",p6Orange],["green",p6Green],["magenta",p6Magenta],["yellow",p6Yellow],["red",p6Red]],
  stem:[["yellow",p6StemYellow],["orange",p6StemOrange]]},
 {left:p7Left,right:p7Right,rough:[["blue",p7Blue],["blue",p7Streak],["orange",p7OrangeLeft],["orange",p7OrangeRight],["green",p7GreenLeft],["green",p7GreenRight],["magenta",p7MagentaLeft],["magenta",p7MagentaRight],["magenta",p7MagentaStem],["yellow",p7YellowTop],["yellow",p7YellowMid],["yellow",p7YellowStem]],
  stem:[["red",p7StemRed],["green",p7StemGreen],["orange",p7StemOrange]]},
 {left:p8Left,right:p8Right,rough:[["blue",p8Blue],["orange",p8Orange],["green",p8Green],["magenta",p8Magenta],["yellow",p8Yellow],["red",p8Red],["red",p8RedStreak1],["red",p8RedStreak2]],
  stem:[["yellow",p8StemYellow],["yellow",p8StemYellowLow],["green",p8StemGreen],["orange",p8StemOrange]]},
 {left:p9Left,right:p9Right,rough:[["blue",p9Blue],["orange",p9Orange],["green",p9Green],["magenta",p9Magenta],["yellow",p9Yellow],["red",p9Red]],
  stem:[["yellow",p9StemYellow],["green",p9StemGreen],["orange",p9StemOrange]]}
];

const NS="http://www.w3.org/2000/svg";
const root=document.getElementById("marks");
const SHEAR_ANGLE=32;
const CAP=70;
function make(tag,parent,attrs){
  const el=document.createElementNS(NS,tag);
  for(const k in attrs){el.setAttribute(k,attrs[k]);}
  parent.appendChild(el);
  return el;
}
function xScale(f,x){return f.x0+(x+600)/1300*(f.x1-f.x0);}
function yScale(f,t){return f.y1-t/15*(f.y1-f.y0);}
function pathFrom(f,arr){
  let d="";
  for(let i=0;i<arr.length;i+=2){
    d+=(i?"L":"M")+xScale(f,arr[i]).toFixed(1)+" "+yScale(f,arr[i+1]).toFixed(1);
  }
  return d;
}
/* Curve through the midpoints of successive segments, so front edges read as smooth arcs. */
function smoothFrom(f,arr){
  const pts=[];
  for(let i=0;i<arr.length;i+=2){pts.push([xScale(f,arr[i]),yScale(f,arr[i+1])]);}
  let d="M"+pts[0][0].toFixed(1)+" "+pts[0][1].toFixed(1);
  for(let i=1;i<pts.length-1;i++){
    const mx=(pts[i][0]+pts[i+1][0])/2,my=(pts[i][1]+pts[i+1][1])/2;
    d+="Q"+pts[i][0].toFixed(1)+" "+pts[i][1].toFixed(1)+" "+mx.toFixed(1)+" "+my.toFixed(1);
  }
  const last=pts[pts.length-1];
  d+="L"+last[0].toFixed(1)+" "+last[1].toFixed(1);
  return d;
}
function outlinePath(f,data){
  const corner=data.left.slice(0,2);
  const body=data.left.slice(2).concat(data.right);
  const start="M"+xScale(f,corner[0]).toFixed(1)+" "+yScale(f,corner[1]).toFixed(1)+"L";
  return start+smoothFrom(f,body).slice(1)+"Z";
}
function rectPath(x0,y0,x1,y1){
  return "M"+x0.toFixed(1)+" "+y0.toFixed(1)+"L"+x1.toFixed(1)+" "+y0.toFixed(1)+"L"+x1.toFixed(1)+" "+y1.toFixed(1)+"L"+x0.toFixed(1)+" "+y1.toFixed(1)+"Z";
}
/* Bleed regions past the plot edges so texture displacement never exposes a gap; the clip trims them. */
function capsFor(f,arr){
  let topMin=Infinity,topMax=-Infinity,leftMin=Infinity,leftMax=-Infinity,rightMin=Infinity,rightMax=-Infinity;
  for(let i=0;i<arr.length;i+=2){
    const x=arr[i],t=arr[i+1];
    if(t>=15){topMin=Math.min(topMin,x);topMax=Math.max(topMax,x);}
    if(x<=-600){leftMin=Math.min(leftMin,t);leftMax=Math.max(leftMax,t);}
    if(x>=700){rightMin=Math.min(rightMin,t);rightMax=Math.max(rightMax,t);}
  }
  let d="";
  if(topMax>topMin){
    const a=xScale(f,topMin)-(topMin<=-600?CAP:0);
    const b=xScale(f,topMax)+(topMax>=700?CAP:0);
    d+=rectPath(a,f.y0-CAP,b,f.y0);
  }
  if(leftMax>leftMin){
    d+=rectPath(f.x0-CAP,yScale(f,leftMax),f.x0,yScale(f,leftMin));
  }
  if(rightMax>rightMin){
    d+=rectPath(f.x1,yScale(f,rightMax),f.x1+CAP,yScale(f,rightMin));
  }
  return d;
}
function drawLayers(parent,f,layers,filterId){
  const cx=(f.x0+f.x1)/2,cy=(f.y0+f.y1)/2;
  const rot=make("g",parent,{transform:"rotate("+SHEAR_ANGLE+" "+cx+" "+cy+")"});
  const tex=make("g",rot,{filter:"url(#"+filterId+")"});
  const unrot=make("g",tex,{transform:"rotate("+(-SHEAR_ANGLE)+" "+cx+" "+cy+")"});
  layers.forEach(function(layer){
    const p=make("path",unrot,{d:pathFrom(f,layer[1])+"Z"+capsFor(f,layer[1]),fill:palette[layer[0]]});
    
    
  });
}
panelLayout.forEach(function(f,pi){
  const data=panelData[pi];
  const outline=outlinePath(f,data);
  const xMid=xScale(f,0);
  const g=make("g",root,{});
  
  

  const clip=make("clipPath",g,{id:"clip-"+pi});
  make("path",clip,{d:outline});
  const clipL=make("clipPath",g,{id:"clipL-"+pi});
  make("rect",clipL,{x:f.x0-10,y:f.y0-10,width:xMid-f.x0+12,height:f.y1-f.y0+20});
  const clipR=make("clipPath",g,{id:"clipR-"+pi});
  make("rect",clipR,{x:xMid,y:f.y0-10,width:f.x1-xMid+10,height:f.y1-f.y0+20});

  const base=make("path",g,{d:outline,fill:palette.cyan,filter:"url(#soft)"});
  
  

  const blueLayers=data.rough.filter(function(l){return l[0]==="blue";});
  const midLayers=data.rough.filter(function(l){return l[0]==="orange"||l[0]==="green"||l[0]==="magenta";});
  const hiLayers=data.rough.filter(function(l){return l[0]==="yellow"||l[0]==="red";});
  const allLayers=midLayers.concat(hiLayers);

  const clipped=make("g",g,{"clip-path":"url(#clip-"+pi+")"});
  drawLayers(clipped,f,blueLayers,f.texL==="fine"?"fine":f.texL);
  const leftHalf=make("g",clipped,{"clip-path":"url(#clipL-"+pi+")"});
  drawLayers(leftHalf,f,allLayers,f.texL);
  const rightHalf=make("g",clipped,{"clip-path":"url(#clipR-"+pi+")"});
  drawLayers(rightHalf,f,midLayers,f.texMid);
  drawLayers(rightHalf,f,hiLayers,f.texHi);

  const stemG=make("g",clipped,{filter:"url(#speckle)"});
  data.stem.forEach(function(layer){
    const p=make("path",stemG,{d:pathFrom(f,layer[1])+"Z",fill:palette[layer[0]]});
    
    
  });

  const leftEdge=make("path",g,{d:smoothFrom(f,data.left.slice(2)),fill:"none",stroke:f.leftC,"stroke-width":f.leftW,filter:"url(#soft)"});
  
  
  const rightEdge=make("path",g,{d:smoothFrom(f,data.right),fill:"none",stroke:f.rightW>3.5?"#1030ff":"#3a6cff","stroke-width":f.rightW,filter:"url(#soft)"});
  
  

  const frame=make("rect",g,{x:f.x0,y:f.y0,width:f.x1-f.x0,height:f.y1-f.y0,fill:"none",stroke:"#808080","stroke-width":3});
  
  

  xMajorTicks.forEach(function(v,i){
    const px=xScale(f,v);
    const t=make("line",g,{x1:px,x2:px,y1:f.y1,y2:f.y1+16,stroke:"#707070","stroke-width":3});
    
    
    const tt=make("line",g,{x1:px,x2:px,y1:f.y0,y2:f.y0-6,stroke:"#808080","stroke-width":2.5});
    
    
    const label=make("text",g,{x:px-(v<0?6:0),y:f.y1+59,"text-anchor":"middle",class:"tick"});
    label.textContent=xTickLabels[i];
    
    
  });
  xMinorTicks.forEach(function(v){
    const px=xScale(f,v);
    const t=make("line",g,{x1:px,x2:px,y1:f.y1,y2:f.y1+7,stroke:"#808080","stroke-width":2.5});
    
    
    const tt=make("line",g,{x1:px,x2:px,y1:f.y0,y2:f.y0-6,stroke:"#808080","stroke-width":2.5});
    
    
  });
  yTicks.forEach(function(v,i){
    const py=yScale(f,v);
    const t=make("line",g,{x1:f.x0-10,x2:f.x0,y1:py,y2:py,stroke:"#707070","stroke-width":3});
    
    
    const tr=make("line",g,{x1:f.x1,x2:f.x1+7,y1:py,y2:py,stroke:"#808080","stroke-width":2.5});
    
    
    const label=make("text",g,{x:f.x0-22,y:py+15,"text-anchor":"end",class:"tick"});
    label.textContent=yTickLabels[i];
    
    
  });
});
</script>
</body>
</html>
